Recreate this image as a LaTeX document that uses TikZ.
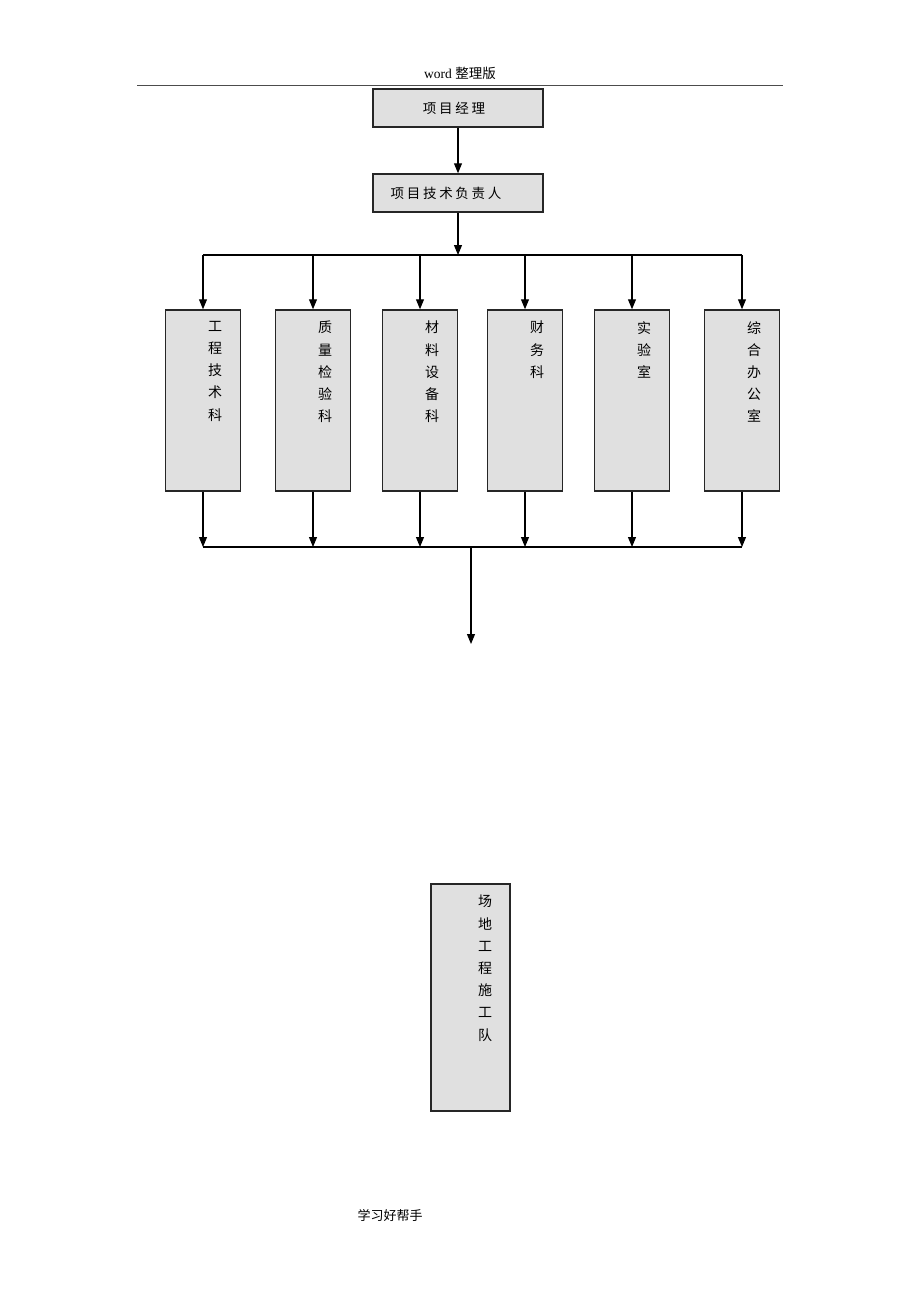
\documentclass[tikz,border=0pt]{standalone}
\usepackage{fontspec}
\setmainfont{Liberation Serif}
\newfontfamily\cjk{Noto Sans CJK SC}
\newfontfamily\cjkwide[LetterSpace=20]{Noto Sans CJK SC}
\usetikzlibrary{arrows.meta}

\tikzset{
    unitbox/.style={draw=black!85, line width=1.5pt, fill=black!12, inner sep=0pt},
    coltext/.style={font=\cjk\fontsize{14}{22.2}\selectfont, align=center, anchor=north, inner sep=0pt,
        execute at begin node=\strut},
    rowtext/.style={font=\cjkwide\fontsize{13.5}{16}\selectfont, inner sep=0pt},
    flow/.style={line width=1.1pt, -{Triangle[length=10pt,width=8pt]}},
    joint/.style={line width=1.1pt}
}

\begin{document}
\begin{tikzpicture}[x=1pt,y=-1pt]
    \useasboundingbox (0,0) rectangle (920,1302);

    % page header and footer
    \node[font=\fontsize{13.5}{15}\selectfont] (head) at (460,73) {word {\cjk 整理版}};
    \draw[line width=0.8pt, black!70] (137,85) -- (783,85);
    \node[font=\cjk\fontsize{13}{15}\selectfont] (foot) at (390,1215) {学习好帮手};

    % top of the chart
    \node[unitbox, minimum width=170pt, minimum height=38pt] (pm) at (458,108) {};
    \node[rowtext] (pmtext) at (454,108) {项目经理};
    \node[unitbox, minimum width=170pt, minimum height=38pt] (tl) at (458,193) {};
    \node[rowtext] (tltext) at (446,193) {项目技术负责人};

    \coordinate (topbus) at (458,255);
    \coordinate (busL) at (203,255);
    \coordinate (busR) at (742,255);
    \coordinate (lowL) at (203,547);
    \coordinate (lowR) at (742,547);
    \coordinate (lowmid) at (471,547);
    \coordinate (down) at (471,644);

    \draw[flow] (pm) -- (tl);
    \draw[flow] (tl) -- (topbus);
    \draw[joint] (busL) -- (busR);
    \draw[joint] (lowL) -- (lowR);
    \draw[flow] (lowmid) -- (down);

    % the six offices
    \foreach \name/\x/\txt in {gc/203/{工\\程\\技\\术\\科}, zl/313/{质\\量\\检\\验\\科}, cl/420/{材\\料\\设\\备\\科},
                               cw/525/{财\\务\\科}, sy/632/{实\\验\\室}, bg/742/{综\\合\\办\\公\\室}}
    {
        \node[unitbox, minimum width=75pt, minimum height=181pt] (\name) at (\x,400.5) {};
        \node[coltext] (\name text) at (\x+12,321) {\txt};
        \coordinate (\name up) at (\x,255);
        \coordinate (\name low) at (\x,547);
        \draw[flow] (\name up) -- (\name.north);
        \draw[flow] (\name.south) -- (\name low);
    }

    % site team
    \node[unitbox, minimum width=79pt, minimum height=227pt] (team) at (470.5,997.5) {};
    \node[coltext] (teamtext) at (485,895) {场\\地\\工\\程\\施\\工\\队};
\end{tikzpicture}
\end{document}
